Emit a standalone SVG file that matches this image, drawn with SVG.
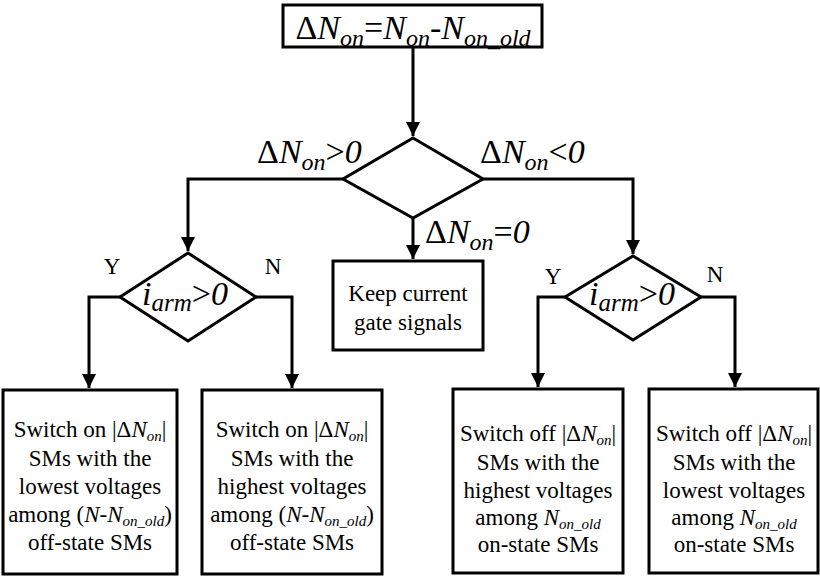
<svg xmlns="http://www.w3.org/2000/svg" width="820" height="577" viewBox="0 0 820 577" font-family="'Liberation Serif', 'DejaVu Serif', serif">
<style>
text{fill:#000}
.box{fill:#fff;stroke:#000;stroke-width:3}
.ln{fill:none;stroke:#000;stroke-width:3}
.big{font-size:34px}
.lab{font-size:34px}
.body{font-size:23px;text-anchor:middle}
.yn{font-size:23px;text-anchor:middle}
.i{font-style:italic}
</style>
<defs>
<marker id="ah" markerUnits="userSpaceOnUse" markerWidth="16" markerHeight="16" viewBox="0 0 16 16" refX="14" refY="8" orient="auto">
<path d="M0,1 L14,8 L0,15 Z" fill="#000"/>
</marker>
</defs>

<g id="connectors">
<path class="ln" d="M413,48 V136" marker-end="url(#ah)"/>
<path class="ln" d="M343,179 H188 V251" marker-end="url(#ah)"/>
<path class="ln" d="M483,179 H633 V254" marker-end="url(#ah)"/>
<path class="ln" d="M413,218 V259" marker-end="url(#ah)"/>
<path class="ln" d="M120,297 H89 V388" marker-end="url(#ah)"/>
<path class="ln" d="M256,297 H292 V388" marker-end="url(#ah)"/>
<path class="ln" d="M565,297 H538 V387" marker-end="url(#ah)"/>
<path class="ln" d="M701,297 H735 V387" marker-end="url(#ah)"/>
</g>

<g id="start">
<rect class="box" x="283" y="5" width="259" height="42"/>
<text class="big" x="413" y="39" text-anchor="middle">Δ<tspan class="i">N</tspan><tspan class="i" font-size="24" dy="7">on</tspan><tspan dy="-7">=</tspan><tspan class="i">N</tspan><tspan class="i" font-size="24" dy="7">on</tspan><tspan dy="-7">-</tspan><tspan class="i">N</tspan><tspan class="i" font-size="24" dy="7">on_old</tspan></text>
</g>

<g id="decision-main">
<polygon class="box" points="413,138 483,179 413,218 343,179"/>
<text class="lab" x="257" y="163">Δ<tspan class="i">N</tspan><tspan class="i" font-size="24" dy="7">on</tspan><tspan dy="-7">&gt;</tspan><tspan class="i">0</tspan></text>
<text class="lab" x="480" y="163">Δ<tspan class="i">N</tspan><tspan class="i" font-size="24" dy="7">on</tspan><tspan dy="-7">&lt;</tspan><tspan class="i">0</tspan></text>
<text class="lab" x="425" y="243">Δ<tspan class="i">N</tspan><tspan class="i" font-size="24" dy="7">on</tspan><tspan dy="-7">=</tspan><tspan class="i">0</tspan></text>
</g>

<g id="keep">
<rect class="box" x="333" y="261" width="150" height="89"/>
<text class="body" x="408" y="301">Keep current</text>
<text class="body" x="408" y="330">gate signals</text>
</g>

<g id="decision-left">
<polygon class="box" points="188,253 256,297 188,341 120,297"/>
<text class="lab" x="142" y="305"><tspan class="i">i</tspan><tspan class="i" font-size="25" dy="6">arm</tspan><tspan dy="-6">&gt;</tspan><tspan class="i">0</tspan></text>
<text class="yn" x="112" y="274">Y</text>
<text class="yn" x="273" y="274">N</text>
</g>

<g id="decision-right">
<polygon class="box" points="633,256 701,297 633,340 565,297"/>
<text class="lab" x="589" y="305"><tspan class="i">i</tspan><tspan class="i" font-size="25" dy="6">arm</tspan><tspan dy="-6">&gt;</tspan><tspan class="i">0</tspan></text>
<text class="yn" x="553" y="284">Y</text>
<text class="yn" x="715" y="282">N</text>
</g>

<g id="box-on-lowest">
<rect class="box" x="3" y="390" width="174" height="184"/>
<text class="body" x="90" y="437">Switch on |Δ<tspan class="i">N</tspan><tspan class="i" font-size="15" dy="4">on</tspan><tspan dy="-4">|</tspan></text>
<text class="body" x="90" y="466">SMs with the</text>
<text class="body" x="90" y="494">lowest voltages</text>
<text class="body" x="90" y="522">among (<tspan class="i">N</tspan><tspan class="i">-N</tspan><tspan class="i" font-size="15" dy="4">on_old</tspan><tspan dy="-4">)</tspan></text>
<text class="body" x="90" y="550">off-state SMs</text>
</g>

<g id="box-on-highest">
<rect class="box" x="202" y="390" width="180" height="184"/>
<text class="body" x="292" y="437">Switch on |Δ<tspan class="i">N</tspan><tspan class="i" font-size="15" dy="4">on</tspan><tspan dy="-4">|</tspan></text>
<text class="body" x="292" y="466">SMs with the</text>
<text class="body" x="292" y="494">highest voltages</text>
<text class="body" x="292" y="522">among (<tspan class="i">N</tspan><tspan class="i">-N</tspan><tspan class="i" font-size="15" dy="4">on_old</tspan><tspan dy="-4">)</tspan></text>
<text class="body" x="292" y="550">off-state SMs</text>
</g>

<g id="box-off-highest">
<rect class="box" x="453" y="389" width="170" height="184"/>
<text class="body" x="538" y="441">Switch off |Δ<tspan class="i">N</tspan><tspan class="i" font-size="15" dy="4">on</tspan><tspan dy="-4">|</tspan></text>
<text class="body" x="538" y="470">SMs with the</text>
<text class="body" x="538" y="498">highest voltages</text>
<text class="body" x="538" y="525">among <tspan class="i">N</tspan><tspan class="i" font-size="15" dy="4">on_old</tspan></text>
<text class="body" x="538" y="552">on-state SMs</text>
</g>

<g id="box-off-lowest">
<rect class="box" x="649" y="389" width="169" height="184"/>
<text class="body" x="734" y="441">Switch off |Δ<tspan class="i">N</tspan><tspan class="i" font-size="15" dy="4">on</tspan><tspan dy="-4">|</tspan></text>
<text class="body" x="734" y="470">SMs with the</text>
<text class="body" x="734" y="498">lowest voltages</text>
<text class="body" x="734" y="525">among <tspan class="i">N</tspan><tspan class="i" font-size="15" dy="4">on_old</tspan></text>
<text class="body" x="734" y="552">on-state SMs</text>
</g>
</svg>
